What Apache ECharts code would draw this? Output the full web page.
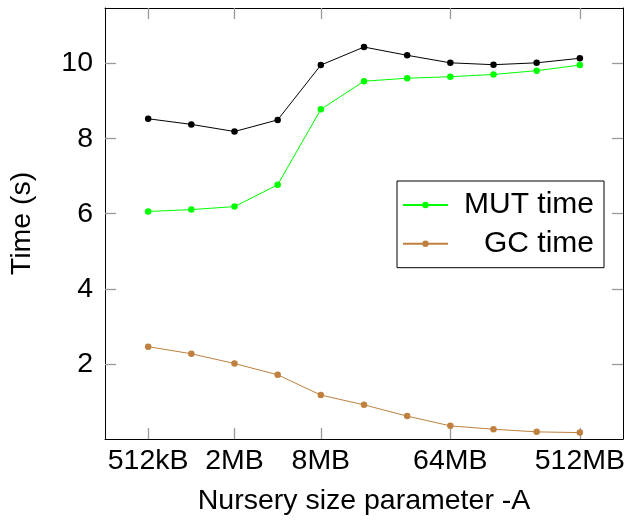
<!DOCTYPE html>
<html>
<head>
<meta charset="utf-8">
<script src="https://cdn.jsdelivr.net/npm/echarts@6/dist/echarts.min.js"></script>
<style>html,body{margin:0;padding:0;background:#fff}#c{width:630px;height:521px}</style>
</head>
<body>
<div id="c"></div>
<script>
const sizes = ['512kB','1MB','2MB','4MB','8MB','16MB','32MB','64MB','128MB','256MB','512MB'];
const xTickIdx = [0, 2, 4, 7, 10];
const yTicks = [2, 4, 6, 8, 10];
const totalTime = [8.53, 8.38, 8.19, 8.50, 9.96, 10.44, 10.22, 10.02, 9.97, 10.02, 10.14];
const mutTime = [6.06, 6.11, 6.19, 6.77, 8.78, 9.53, 9.61, 9.65, 9.71, 9.81, 9.96];
const gcTime = [2.46, 2.27, 2.01, 1.71, 1.17, 0.91, 0.61, 0.35, 0.26, 0.19, 0.17];

const FONT = 'Liberation Sans';
const FS = 28.5;
const pairs = arr => arr.map((v, i) => [i, v]);
const mkTick = vals => ({ show: true, inside: true, length: 11, customValues: vals, lineStyle: { color: '#999999', width: 1.3 } });
const axLine = { show: true, onZero: false, lineStyle: { color: '#000', width: 1 } };

const chart = echarts.init(document.getElementById('c'), null, { renderer: 'canvas' });
chart.setOption({
  animation: false,
  backgroundColor: '#fff',
  textStyle: { fontFamily: FONT, color: '#000' },
  grid: { left: 105, right: 7, top: 8, bottom: 82, containLabel: false },
  xAxis: [{
    type: 'value', min: -1, max: 11, position: 'bottom',
    splitLine: { show: false },
    axisLine: axLine,
    axisTick: mkTick(xTickIdx),
    axisLabel: { customValues: xTickIdx, formatter: v => sizes[Math.round(v)], fontSize: FS, fontFamily: FONT, color: '#000', margin: 8 },
    name: 'Nursery size parameter -A', nameLocation: 'middle', nameGap: 48,
    nameTextStyle: { fontSize: FS, fontFamily: FONT, color: '#000' }
  }, {
    type: 'value', min: -1, max: 11, position: 'top',
    splitLine: { show: false },
    axisLine: axLine,
    axisTick: mkTick(xTickIdx),
    axisLabel: { show: false }
  }],
  yAxis: [{
    type: 'value', min: 0, max: 11.48, position: 'left',
    splitLine: { show: false },
    axisLine: axLine,
    axisTick: mkTick(yTicks),
    axisLabel: { customValues: yTicks, fontSize: FS, fontFamily: FONT, color: '#000', margin: 12 },
    name: 'Time (s)', nameLocation: 'middle', nameGap: 68, nameRotate: 90,
    nameTextStyle: { fontSize: FS, fontFamily: FONT, color: '#000' }
  }, {
    type: 'value', min: 0, max: 11.48, position: 'right',
    splitLine: { show: false },
    axisLine: axLine,
    axisTick: mkTick(yTicks),
    axisLabel: { show: false }
  }],
  legend: {
    data: ['MUT time', 'GC time'],
    orient: 'vertical', left: 397, top: 181,
    padding: [9, 10, 9, 5],
    backgroundColor: '#fff', borderColor: '#000', borderWidth: 1, borderRadius: 0,
    itemWidth: 45, itemHeight: 8, itemGap: 8.7,
    formatter: name => '{a|' + name + '}',
    textStyle: {
      fontSize: FS, fontFamily: FONT, color: '#000',
      rich: { a: { width: 141, align: 'right', fontSize: 30, fontFamily: FONT, color: '#000' } }
    }
  },
  series: [{
    name: 'Total', type: 'line', data: pairs(totalTime),
    symbol: 'circle', symbolSize: 6.5, showSymbol: true,
    lineStyle: { color: '#000', width: 1 }, itemStyle: { color: '#000' }
  }, {
    name: 'MUT time', type: 'line', data: pairs(mutTime),
    symbol: 'circle', symbolSize: 6.5,
    lineStyle: { color: '#00ff00', width: 1 }, itemStyle: { color: '#00ff00' }
  }, {
    name: 'GC time', type: 'line', data: pairs(gcTime),
    symbol: 'circle', symbolSize: 6.5,
    lineStyle: { color: '#bf8040', width: 1 }, itemStyle: { color: '#bf8040' }
  }]
});
</script>
</body>
</html>
